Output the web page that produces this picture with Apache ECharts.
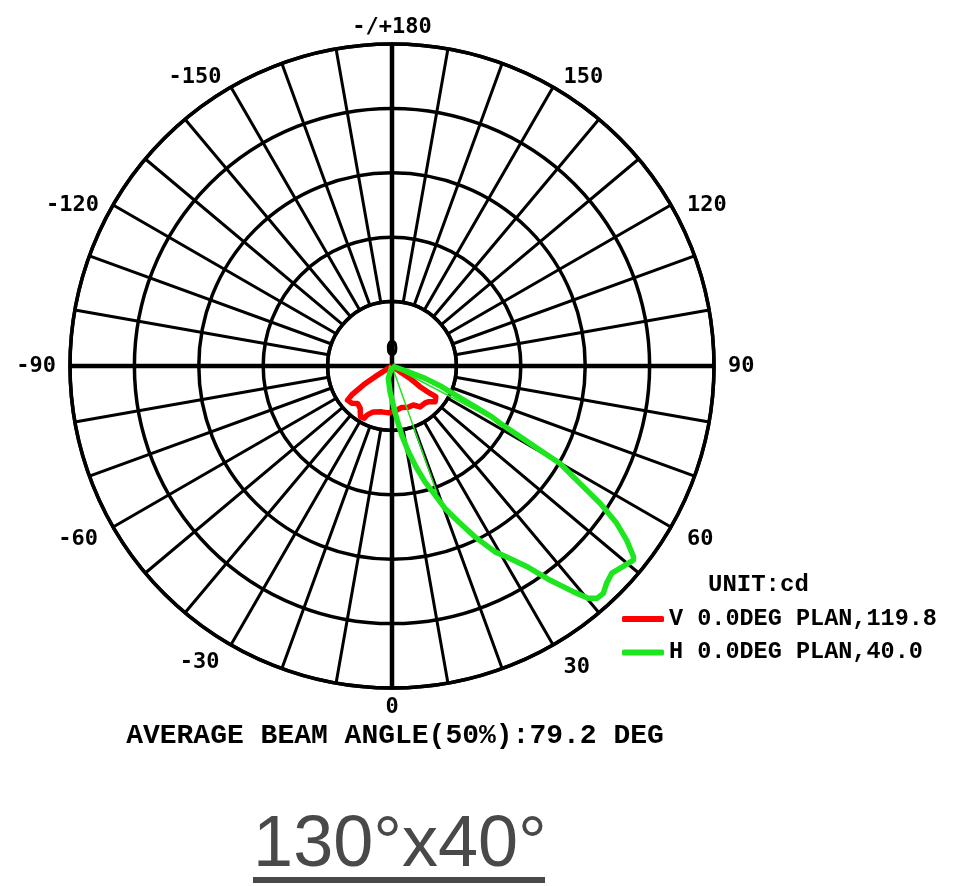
<!DOCTYPE html>
<html><head><meta charset="utf-8">
<script src="https://cdn.jsdelivr.net/npm/echarts@6/dist/echarts.min.js"></script>
<style>html,body{margin:0;padding:0;background:#fff}#c{width:965px;height:886px}</style>
</head><body><div id="c"></div>
<script>
// ---- tick labels ----
const angleLabelValues = [-180,-150,-120,-90,-60,-30,0,30,60,90,120,150];
const angleLabelTexts  = ['-/+180','-150','-120','-90','-60','-30','0','30','60','90','120','150'];
const radiusLabelTexts = ['0'];
// ---- series names / texts ----
const vName = 'V 0.0DEG PLAN,119.8';
const hName = 'H 0.0DEG PLAN,40.0';
const unitText = 'UNIT:cd';
const beamText = 'AVERAGE BEAM ANGLE(50%):79.2 DEG';
const titleText = '130°x40°';
// ---- V plane (red): angle (deg, 0 = down), intensity (ring units 0..5) ----
const vAngles = [-60,-57.8,-56.5,-54.3,-52.5,-47.2,-42.6,-37.1,-31.7,-28.2,-26.7,-22.3,-12.7,-4.5,4,13.2,21.5,28.6,34.5,41.5,45.5,50.3,55.1,54.3,53.5,55.7,54.5,55];
const vValues = [0,0.31,0.53,0.77,0.87,0.85,0.79,0.82,0.93,0.92,0.85,0.77,0.73,0.73,0.70,0.66,0.69,0.69,0.77,0.77,0.79,0.87,0.83,0.73,0.54,0.34,0.15,0];
// ---- H plane (green) ----
const hAngles = [-20,-16.7,-4.4,1.9,5.1,8.0,10.8,13.6,15.9,18.4,20.4,23.1,25.9,29.0,31.0,33.9,36.4,38.8,40.2,41.4,42.9,44.7,46.7,49.1,51.2,51.7,53.4,55.0,56.6,58.0,59.9,60.4,61.1,62.1,63.0,63.9,65.2,67.4,69.6,70.7,75];
const hValues = [0,0.20,0.40,0.61,0.82,1.08,1.35,1.63,1.87,2.11,2.36,2.63,2.95,3.30,3.46,3.75,4.13,4.50,4.72,4.81,4.82,4.74,4.69,4.75,4.81,4.78,4.54,4.26,3.87,3.44,3.01,2.64,2.27,1.90,1.74,1.44,1.13,0.84,0.55,0.27,0];
// thin chord lines of H curve
const hChordAngles = [19.5,0,62.3];
const hChordValues = [2.10,0,2.00];

const toPairs = (a, r) => a.map((ang, i) => [r[i], ang]);

// ---- layout / style ----
const CX = 392, CY = 366, R = 322, RIN = R / 5;
const labelFont = 'DejaVu Sans Mono';
const monoBold = 'Liberation Mono';
const GREEN = '#1ee61e';
// per-label padding [top, right, bottom, left] to nudge angle labels (same order as angleLabelValues)
const labelPad = [
  [0,0,-7,0],   // -180 (top)
  [0,3,-12,0],  // -150
  [0,3,-18,0],  // -120
  [0,1,0,0],    // -90
  [-5,4,0,0],   // -60
  [-5,5,0,0],   // -30
  [-5,0,0,0],   // 0
  [0,0,0,4],    // 30
  [-5,0,0,5],   // 60
  [0,0,0,1],    // 90
  [0,0,-18,5],  // 120
  [0,0,-12,4]   // 150
];
const labelRich = {};
labelPad.forEach((p, i) => {
  labelRich['l' + i] = {padding: p, fontSize: 22, fontWeight: 'bold', fontFamily: labelFont, color: '#000'};
});

const chart = echarts.init(document.getElementById('c'), null, {renderer: 'canvas'});
chart.setOption({
  backgroundColor: '#ffffff',
  animation: false,
  polar: [
    {center: [CX, CY], radius: [RIN, R]},
    {center: [CX, CY], radius: [0, R]}
  ],
  angleAxis: [
    {
      polarIndex: 0, type: 'value', min: -180, max: 180, interval: 10,
      startAngle: 90, clockwise: false,
      axisLine: {show: true, lineStyle: {color: '#000', width: 3.5}},
      axisTick: {show: false},
      splitLine: {show: true, lineStyle: {color: '#000', width: 3}},
      axisLabel: {
        show: true, margin: 13, color: '#000', fontSize: 22, fontWeight: 'bold', fontFamily: labelFont,
        rich: labelRich,
        formatter: v => {
          const i = angleLabelValues.indexOf(v);
          return i >= 0 ? '{l' + i + '|' + angleLabelTexts[i] + '}' : '';
        }
      }
    },
    {
      polarIndex: 1, type: 'value', min: -180, max: 180, interval: 90,
      startAngle: 90, clockwise: false,
      axisLine: {show: false}, axisTick: {show: false}, axisLabel: {show: false},
      splitLine: {show: true, lineStyle: {color: '#000', width: 4.5}}
    }
  ],
  radiusAxis: [
    {polarIndex: 0, type: 'value', min: 0, max: 1, axisLine: {show: false}, axisTick: {show: false}, axisLabel: {show: false}, splitLine: {show: false}},
    {
      polarIndex: 1, type: 'value', min: 0, max: 5, interval: 1,
      axisLine: {show: false}, axisTick: {show: false},
      splitLine: {show: true, lineStyle: {color: '#000', width: 3.5}},
      axisLabel: {
        show: true, margin: 0, align: 'center', verticalAlign: 'bottom', padding: [0,0,5,0],
        color: '#000', fontSize: 22, fontWeight: 'bold', fontFamily: labelFont,
        formatter: v => (v === 0 ? radiusLabelTexts[0] : '')
      }
    }
  ],
  legend: {
    data: [vName, hName], orient: 'vertical', left: 617, top: 602, itemGap: 9.5,
    itemWidth: 42, itemHeight: 6, icon: 'roundRect', selectedMode: false,
    textStyle: {color: '#000', fontFamily: monoBold, fontWeight: 'bold', fontSize: 23.5}
  },
  series: [
    {name: vName, type: 'line', coordinateSystem: 'polar', polarIndex: 1, data: toPairs(vAngles, vValues),
      showSymbol: false, symbol: 'none', color: '#ff0000', lineStyle: {color: '#ff0000', width: 5.5, join: 'round'}, z: 3},
    {name: hName, type: 'line', coordinateSystem: 'polar', polarIndex: 1, data: toPairs(hAngles, hValues),
      showSymbol: false, symbol: 'none', color: GREEN, lineStyle: {color: GREEN, width: 5.5, join: 'round'}, z: 4},
    {name: 'H chord', type: 'line', coordinateSystem: 'polar', polarIndex: 1, data: toPairs(hChordAngles, hChordValues),
      showSymbol: false, symbol: 'none', color: GREEN, lineStyle: {color: GREEN, width: 1.5}, z: 4}
  ],
  graphic: [
    {type: 'text', x: 708, y: 585, style: {text: unitText, font: 'bold 24px "Liberation Mono"', fill: '#000', textAlign: 'left', textVerticalAlign: 'middle'}},
    {type: 'text', x: 395, y: 736, style: {text: beamText, font: 'bold 28px "Liberation Mono"', fill: '#000', textAlign: 'center', textVerticalAlign: 'middle'}},
    {type: 'text', x: 400, y: 846, style: {text: titleText, font: '72px "Liberation Sans"', fill: '#4a484a', textAlign: 'center', textVerticalAlign: 'middle'}},
    {type: 'rect', shape: {x: 253, y: 877, width: 292, height: 6}, style: {fill: '#4a484a'}}
  ]
});
</script>
</body></html>
